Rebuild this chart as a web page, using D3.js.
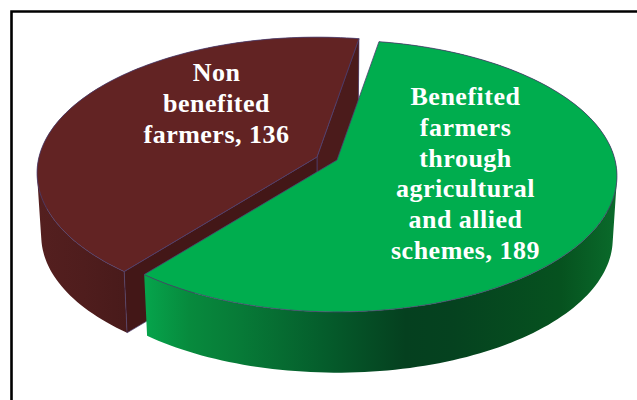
<!DOCTYPE html>
<html>
<head>
<meta charset="utf-8">
<script src="https://cdn.jsdelivr.net/npm/d3@7"></script>
<style>
html,body{margin:0;padding:0;background:#fff;overflow:hidden}
svg{display:block}
text{font-family:"Liberation Serif",serif;font-weight:700;font-size:26px;letter-spacing:0.5px;fill:#fff;text-anchor:middle}
</style>
</head>
<body>
<svg id="chart" width="637" height="400"></svg>
<script>
// Farmers by scheme benefit
const categories = ["Benefited farmers through agricultural and allied schemes", "Non benefited farmers"];
const values = [189, 136];
const labelLines = [
  ["Benefited", "farmers", "through", "agricultural", "and allied", "schemes, 189"],
  ["Non", "benefited", "farmers, 136"]
];

const topColors = ["#00ad4e", "#622323"];
const faceColors = [null, "#431717"];
const farFaceColor = "#4b1b1b";
const edge = "#4d3f70";

// Perspective disc: circle of radius R tilted by k, with foreshortening p
const R = 278, k = 0.482, p = 0.118;
const depth = 63, shrink = 0.985;
const centers = [[337, 160], [317, 157]];
const labelAnchors = [[465.5, 105, 30.8], [216.5, 81, 31]];

const start = 9.7 * Math.PI / 180;
const slices = d3.pie().sort(null).startAngle(start).endAngle(start + 2 * Math.PI)(values);

function project(angle, center, lower) {
  const u = Math.sin(angle), v = -Math.cos(angle);
  const f = 1 / (1 - p * v);
  const s = lower ? shrink : 1;
  return [
    center[0] + R * s * u * f,
    center[1] + (lower ? depth : 0) + R * k * s * v * f
  ];
}
function arcPoints(a0, a1, center, lower) {
  const n = Math.max(2, Math.ceil(Math.abs(a1 - a0) * 40));
  return d3.range(n + 1).map(i => project(a0 + (a1 - a0) * i / n, center, lower));
}

const svg = d3.select("#chart");
const line = d3.line();
const closed = pts => line(pts) + "Z";

// Swept side of a rim: one consistently wound quad per arc step, so the fold
// at the left and right extremes fills out to the tangent silhouette
function sweptWall(topArc, lowArc) {
  return d3.range(topArc.length - 1).map(i => {
    const q = [topArc[i], topArc[i + 1], lowArc[i + 1], lowArc[i]];
    return closed(d3.polygonArea(q) < 0 ? q.reverse() : q);
  }).join("");
}

const defs = svg.append("defs");
function wallGradient(id, x1, x2, stops) {
  const g = defs.append("linearGradient").attr("id", id)
    .attr("gradientUnits", "userSpaceOnUse")
    .attr("x1", x1).attr("x2", x2).attr("y1", 0).attr("y2", 0);
  stops.forEach(s => g.append("stop").attr("offset", s[0]).attr("stop-color", s[1]));
}
wallGradient("wallGreen", 147, 617, [
  [0, "#06a34b"], [0.09, "#078a3d"], [0.2, "#077a37"], [0.37, "#055e2c"],
  [0.55, "#05401f"], [0.65, "#05421f"], [0.88, "#06521f"], [1, "#0a6b2b"]
]);
wallGradient("wallBrown", 38, 130, [[0, "#541f1f"], [0.5, "#4f1d1d"], [1, "#481a1a"]]);

// Radial faces of the slice, from the rim corner to the apex
function radialFace(angle, center) {
  const apexLow = [center[0], center[1] + depth];
  return [project(angle, center, false), center, apexLow, project(angle, center, true)];
}

function drawSlice(i) {
  const d = slices[i], c = centers[i];
  const g = svg.append("g").attr("class", "slice").datum(categories[i]);
  const topArc = arcPoints(d.startAngle, d.endAngle, c, false);
  const lowArc = arcPoints(d.startAngle, d.endAngle, c, true);

  g.append("path")
    .attr("d", sweptWall(topArc, lowArc))
    .attr("fill", i === 0 ? "url(#wallGreen)" : "url(#wallBrown)");

  if (faceColors[i]) {
    g.append("path").attr("d", closed(radialFace(d.endAngle, c)))
      .attr("fill", farFaceColor).attr("stroke", edge).attr("stroke-width", 0.7);
    g.append("path").attr("d", closed(radialFace(d.startAngle, c)))
      .attr("fill", faceColors[i]).attr("stroke", edge).attr("stroke-width", 0.7);
  }

  g.append("path")
    .attr("d", closed(topArc.concat([c])))
    .attr("fill", topColors[i])
    .attr("stroke", edge).attr("stroke-width", 0.8);

  const a = labelAnchors[i];
  g.selectAll("text").data(labelLines[i]).join("text")
    .attr("x", a[0])
    .attr("y", (_, j) => a[1] + j * a[2])
    .text(t => t);
}

// Brown slice sits behind the green one
drawSlice(1);
drawSlice(0);

// Frame: top and left rules only reach the window edges
svg.append("path")
  .attr("d", "M637,11.5H11.5V400")
  .attr("fill", "none").attr("stroke", "#000").attr("stroke-width", 2.6);
</script>
</body>
</html>
